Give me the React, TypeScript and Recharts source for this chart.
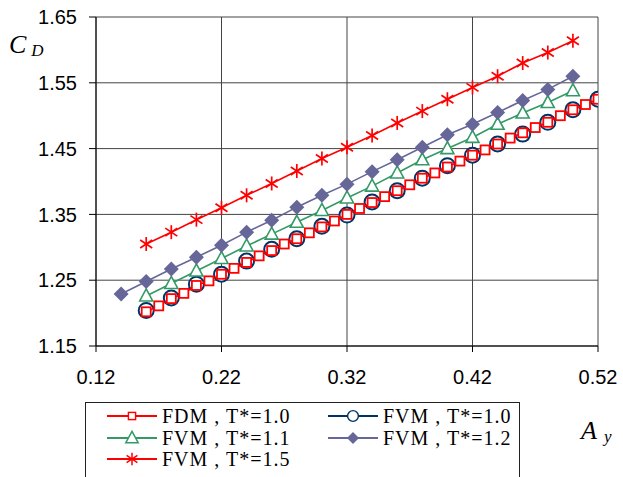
import React from 'react';
import { ScatterChart, Scatter, XAxis, YAxis, CartesianGrid } from 'recharts';

// A_y values and C_D values
const AY_FDM = [
  0.16, 0.17, 0.18, 0.19, 0.2, 0.21, 0.22, 0.23, 0.24, 0.25, 0.26, 0.27, 0.28,
  0.29, 0.3, 0.31, 0.32, 0.33, 0.34, 0.35, 0.36, 0.37, 0.38, 0.39, 0.4, 0.41,
  0.42, 0.43, 0.44, 0.45, 0.46, 0.47, 0.48, 0.49, 0.5, 0.51, 0.52,
];
const CD_FDM = [
  1.202, 1.211, 1.222, 1.23, 1.242, 1.249, 1.259, 1.268, 1.277, 1.287, 1.295,
  1.305, 1.313, 1.322, 1.331, 1.34, 1.35, 1.359, 1.368, 1.377, 1.386, 1.395,
  1.405, 1.413, 1.422, 1.431, 1.44, 1.448, 1.457, 1.466, 1.474, 1.482, 1.49,
  1.5, 1.509, 1.517, 1.525,
];

const AY_FVM10 = [
  0.16, 0.18, 0.2, 0.22, 0.24, 0.26, 0.28, 0.3, 0.32, 0.34, 0.36, 0.38, 0.4,
  0.42, 0.44, 0.46, 0.48, 0.5, 0.52,
];
const CD_FVM10 = [
  1.204, 1.223, 1.244, 1.259, 1.279, 1.297, 1.313, 1.332, 1.349, 1.369, 1.386,
  1.405, 1.424, 1.44, 1.457, 1.472, 1.49, 1.509, 1.525,
];

const AY_FVM11 = [
  0.16, 0.18, 0.2, 0.22, 0.24, 0.26, 0.28, 0.3, 0.32, 0.34, 0.36, 0.38, 0.4,
  0.42, 0.44, 0.46, 0.48, 0.5,
];
const CD_FVM11 = [
  1.226, 1.245, 1.264, 1.283, 1.302, 1.32, 1.338, 1.356, 1.375, 1.393, 1.413,
  1.433, 1.45, 1.467, 1.487, 1.504, 1.52, 1.538,
];

const AY_FVM12 = [
  0.14, 0.16, 0.18, 0.2, 0.22, 0.24, 0.26, 0.28, 0.3, 0.32, 0.34, 0.36, 0.38,
  0.4, 0.42, 0.44, 0.46, 0.48, 0.5,
];
const CD_FVM12 = [
  1.229, 1.248, 1.267, 1.285, 1.303, 1.323, 1.341, 1.361, 1.379, 1.396, 1.415,
  1.433, 1.452, 1.471, 1.487, 1.505, 1.523, 1.54, 1.56,
];

const AY_FVM15 = [
  0.16, 0.18, 0.2, 0.22, 0.24, 0.26, 0.28, 0.3, 0.32, 0.34, 0.36, 0.38, 0.4,
  0.42, 0.44, 0.46, 0.48, 0.5,
];
const CD_FVM15 = [
  1.305, 1.323, 1.342, 1.36, 1.379, 1.397, 1.416, 1.435, 1.452, 1.47, 1.489,
  1.507, 1.525, 1.543, 1.56, 1.58, 1.596, 1.614,
];

const X_TICKS = [0.12, 0.22, 0.32, 0.42, 0.52];
const Y_TICKS = [1.15, 1.25, 1.35, 1.45, 1.55, 1.65];

const RED = '#ff0000';
const NAVY = '#003366';
const GREEN = '#339966';
const PURPLE = '#666699';

const SERIF = 'Liberation Serif, Times New Roman, serif';

const pts = (xs: number[], ys: number[]) => xs.map((x, i) => ({ x, y: ys[i] }));

type MarkerKind = 'square' | 'circle' | 'triangle' | 'diamond' | 'star';

function Marker({ kind, cx, cy }: { kind: MarkerKind; cx: number; cy: number }) {
  switch (kind) {
    case 'square':
      return <rect x={cx - 4.5} y={cy - 4.5} width={9} height={9} fill="#fff" stroke={RED} strokeWidth={1.8} />;
    case 'circle':
      return <circle cx={cx} cy={cy} r={7.5} fill="#fff" stroke={NAVY} strokeWidth={2} />;
    case 'triangle':
      return (
        <polygon
          points={`${cx},${cy - 7} ${cx + 6.5},${cy + 5} ${cx - 6.5},${cy + 5}`}
          fill="#fff"
          stroke={GREEN}
          strokeWidth={1.6}
        />
      );
    case 'diamond':
      return <polygon points={`${cx},${cy - 7.5} ${cx + 7.5},${cy} ${cx},${cy + 7.5} ${cx - 7.5},${cy}`} fill={PURPLE} />;
    case 'star':
      return (
        <g stroke={RED} strokeWidth={1.7}>
          <line x1={cx} y1={cy - 7} x2={cx} y2={cy + 7} />
          <line x1={cx - 6} x2={cx + 6} y1={cy - 4} y2={cy + 4} />
          <line x1={cx - 6} x2={cx + 6} y1={cy + 4} y2={cy - 4} />
        </g>
      );
  }
}

const shape = (kind: MarkerKind) => (p: any) => <Marker kind={kind} cx={p.cx} cy={p.cy} />;

const LEGEND = [
  { label: 'FDM , T*=1.0', kind: 'square' as MarkerKind, color: RED, left: 107, top: 406 },
  { label: 'FVM , T*=1.0', kind: 'circle' as MarkerKind, color: NAVY, left: 328, top: 406 },
  { label: 'FVM , T*=1.1', kind: 'triangle' as MarkerKind, color: GREEN, left: 107, top: 427.5 },
  { label: 'FVM , T*=1.2', kind: 'diamond' as MarkerKind, color: PURPLE, left: 328, top: 427.5 },
  { label: 'FVM , T*=1.5', kind: 'star' as MarkerKind, color: RED, left: 107, top: 449 },
];

function LegendIcon({ kind, color }: { kind: MarkerKind; color: string }) {
  const small: Record<MarkerKind, number> = { square: 0.8, circle: 0.72, triangle: 0.95, diamond: 0.8, star: 0.9 };
  const s = small[kind];
  return (
    <svg width={50} height={20} style={{ display: 'block' }}>
      <line x1={0} x2={50} y1={10} y2={10} stroke={color} strokeWidth={2} />
      <g transform={`translate(25 10) scale(${s}) translate(-25 -10)`}>
        <Marker kind={kind} cx={25} cy={10} />
      </g>
    </svg>
  );
}

const tickStyle = { fontSize: 20, fill: '#000', fontFamily: 'Liberation Sans, Arial, sans-serif' };

export default function App() {
  return (
    <div style={{ position: 'absolute', left: 0, top: 0, width: 623, height: 477, background: '#fff', overflow: 'hidden' }}>
      <ScatterChart width={623} height={477} margin={{ top: 17, right: 25, bottom: 81, left: 0 }}>
        <CartesianGrid stroke="#444" strokeWidth={1} />
        <XAxis
          type="number"
          dataKey="x"
          domain={[0.12, 0.52]}
          ticks={X_TICKS}
          tickFormatter={(v: number) => v.toFixed(2)}
          tick={tickStyle}
          tickSize={6}
          tickMargin={18}
          height={50}
          stroke="#000"
          allowDataOverflow
        />
        <YAxis
          type="number"
          dataKey="y"
          domain={[1.15, 1.65]}
          ticks={Y_TICKS}
          tickFormatter={(v: number) => v.toFixed(2)}
          tick={tickStyle}
          tickSize={7}
          tickMargin={12}
          width={96}
          stroke="#000"
          allowDataOverflow
        />
        <Scatter
          data={pts(AY_FVM10, CD_FVM10)}
          line={{ stroke: NAVY, strokeWidth: 1.6 }}
          shape={shape('circle')}
          isAnimationActive={false}
        />
        <Scatter
          data={pts(AY_FDM, CD_FDM)}
          line={{ stroke: RED, strokeWidth: 1.6 }}
          shape={shape('square')}
          isAnimationActive={false}
        />
        <Scatter
          data={pts(AY_FVM11, CD_FVM11)}
          line={{ stroke: GREEN, strokeWidth: 1.6 }}
          shape={shape('triangle')}
          isAnimationActive={false}
        />
        <Scatter
          data={pts(AY_FVM12, CD_FVM12)}
          line={{ stroke: PURPLE, strokeWidth: 1.6 }}
          shape={shape('diamond')}
          isAnimationActive={false}
        />
        <Scatter
          data={pts(AY_FVM15, CD_FVM15)}
          line={{ stroke: RED, strokeWidth: 1.6 }}
          shape={shape('star')}
          isAnimationActive={false}
        />
      </ScatterChart>

      {/* axis titles */}
      <div style={{ position: 'absolute', left: 9, top: 32, fontFamily: SERIF, fontStyle: 'italic', fontSize: 26, lineHeight: 1, whiteSpace: 'nowrap' }}>
        C<span style={{ fontSize: 17, marginLeft: 5, position: 'relative', top: 3 }}>D</span>
      </div>
      <div style={{ position: 'absolute', left: 581, top: 418, fontFamily: SERIF, fontStyle: 'italic', fontSize: 26, lineHeight: 1, whiteSpace: 'nowrap' }}>
        A<span style={{ fontSize: 17, marginLeft: 7, position: 'relative', top: 3 }}>y</span>
      </div>

      {/* legend */}
      <div style={{ position: 'absolute', left: 85, top: 402, width: 435, height: 90, border: '1px solid #222', boxSizing: 'border-box', background: '#fff' }} />
      {LEGEND.map((l) => (
        <div
          key={l.label}
          style={{ position: 'absolute', left: l.left, top: l.top, display: 'flex', alignItems: 'center', gap: 5, fontFamily: SERIF, fontSize: 20, letterSpacing: 1, lineHeight: '20px', whiteSpace: 'nowrap' }}
        >
          <LegendIcon kind={l.kind} color={l.color} />
          <span>{l.label}</span>
        </div>
      ))}
    </div>
  );
}
